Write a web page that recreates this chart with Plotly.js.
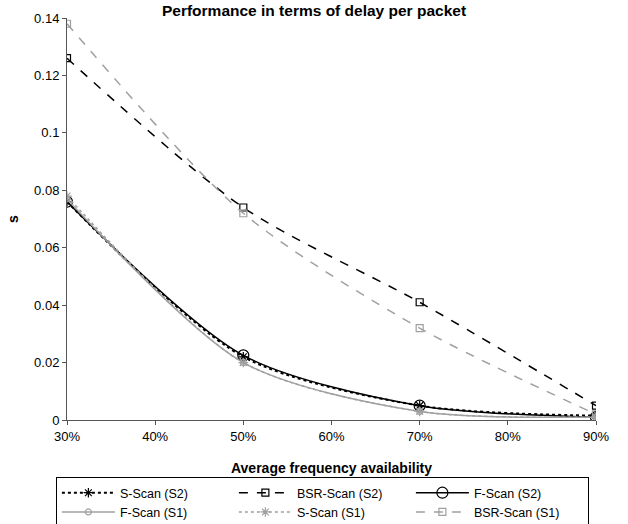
<!DOCTYPE html>
<html><head><meta charset="utf-8">
<script src="https://cdn.plot.ly/plotly-3.0.1.min.js"></script>
<style>body{margin:0;background:#fff}#c{width:628px;height:524px}</style>
</head><body><div id="c"></div>
<script>
var availability = [30, 50, 70, 90];
var xTicks = [30, 40, 50, 60, 70, 80, 90];
var xTickText = ['30%', '40%', '50%', '60%', '70%', '80%', '90%'];
var sScanS2 = [0.076, 0.022, 0.005, 0.0015];
var bsrScanS2 = [0.126, 0.074, 0.041, 0.005];
var fScanS2 = [0.076, 0.0225, 0.005, 0.001];
var fScanS1 = [0.077, 0.020, 0.003, 0.001];
var sScanS1 = [0.078, 0.020, 0.003, 0.001];
var bsrScanS1 = [0.138, 0.072, 0.032, 0.002];
var yTicks = [0, 0.02, 0.04, 0.06, 0.08, 0.1, 0.12, 0.14];
var yTickText = ['0', '0.02', '0.04', '0.06', '0.08', '0.1', '0.12', '0.14'];

var BLACK = '#000000', GRAY = '#a0a0a0';
function tr(name, y, color, dash, symbol, size, width) {
  return {x: availability, y: y, name: name, type: 'scatter', mode: 'lines+markers',
    line: {color: color, dash: dash, width: width || 1.5, shape: 'spline', smoothing: 0.8},
    marker: {symbol: symbol, size: size, color: color, line: {color: color, width: 1.2}}};
}
var data = [
  tr('S-Scan (S2)', sScanS2, BLACK, 'dot', 'asterisk-open', 8, 2),
  tr('BSR-Scan (S2)', bsrScanS2, BLACK, 'dash', 'square-open', 7),
  tr('F-Scan (S2)', fScanS2, BLACK, 'solid', 'circle-open', 11),
  tr('F-Scan (S1)', fScanS1, GRAY, 'solid', 'circle-open', 6),
  tr('S-Scan (S1)', sScanS1, GRAY, 'dot', 'asterisk-open', 8),
  tr('BSR-Scan (S1)', bsrScanS1, GRAY, 'dash', 'square-open', 7)
];
var layout = {
  width: 628, height: 524,
  margin: {l: 67, r: 32, t: 18, b: 104, autoexpand: false},
  paper_bgcolor: '#fff', plot_bgcolor: '#fff',
  font: {family: 'Liberation Sans, Arial, sans-serif', size: 13, color: '#000'},
  title: {text: '<b>Performance in terms of delay per packet</b>', font: {size: 15.5}, x: 0.5, xanchor: 'center', y: 0.99, yanchor: 'top'},
  xaxis: {range: [30, 90], tickvals: xTicks, ticktext: xTickText, showgrid: false, zeroline: false,
    showline: true, linecolor: '#555', ticks: 'outside', ticklen: 4, tickcolor: '#555',
    title: {text: '<b>Average frequency availability</b>', font: {size: 14}, standoff: 20}},
  yaxis: {range: [0, 0.14], tickvals: yTicks, ticktext: yTickText, showgrid: false, zeroline: false,
    showline: true, linecolor: '#555', ticks: 'outside', ticklen: 4, tickcolor: '#555',
    title: {text: '<b>s</b>', font: {size: 14}, standoff: 12}},
  showlegend: true,
  legend: {orientation: 'h', x: -0.021, xanchor: 'left', y: -0.142, yanchor: 'top',
    bordercolor: '#000', borderwidth: 1, entrywidth: 109, entrywidthmode: 'pixels',
    font: {size: 12.5}, tracegroupgap: 0, itemwidth: 53}
};
Plotly.newPlot('c', data, layout, {displayModeBar: false});
</script></body></html>
